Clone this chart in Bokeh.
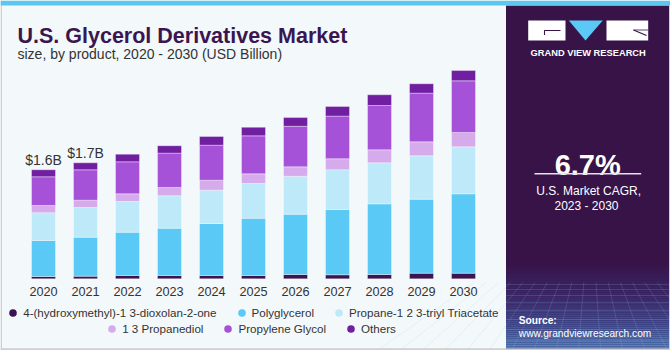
from bokeh.plotting import figure
from bokeh.models import Range1d, Legend, LegendItem, ColumnDataSource
from bokeh.core.properties import value
from bokeh.embed import file_html
from bokeh.resources import INLINE

# ---------------- data ----------------
years = [2020, 2021, 2022, 2023, 2024, 2025, 2026, 2027, 2028, 2029, 2030]
hydroxymethyl = [0.034, 0.038, 0.048, 0.048, 0.048, 0.048, 0.063, 0.059, 0.063, 0.082, 0.082]
polyglycerol = [0.529, 0.573, 0.636, 0.695, 0.764, 0.841, 0.885, 0.959, 1.038, 1.087, 1.166]
triacetate = [0.407, 0.436, 0.451, 0.476, 0.489, 0.510, 0.558, 0.583, 0.602, 0.637, 0.690]
propanediol = [0.107, 0.107, 0.113, 0.122, 0.147, 0.142, 0.138, 0.162, 0.191, 0.206, 0.210]
propylene_glycol = [0.421, 0.446, 0.470, 0.504, 0.514, 0.558, 0.596, 0.626, 0.651, 0.714, 0.759]
others = [0.103, 0.103, 0.112, 0.109, 0.128, 0.126, 0.128, 0.142, 0.157, 0.138, 0.151]

series_keys = ["hydroxymethyl", "polyglycerol", "triacetate", "propanediol", "propylene_glycol", "others"]
series_labels = ["4-(hydroxymethyl)-1 3-dioxolan-2-one", "Polyglycerol", "Propane-1 2 3-triyl Triacetate",
                 "1 3 Propanediol", "Propylene Glycol", "Others"]
series_colors = ["#3B1450", "#5BC9F5", "#BDE9F9", "#D6ABEC", "#A552D8", "#701FA0"]

label_years = [2020, 2021]
label_texts = ["$1.6B", "$1.7B"]

title_text = "U.S. Glycerol Derivatives Market"
subtitle_text = "size, by product, 2020 - 2030 (USD Billion)"
cagr_text = "6.7%"
cagr_label1 = "U.S. Market CAGR,"
cagr_label2 = "2023 - 2030"

FONT = "Liberation Sans"

data = dict(year=years, hydroxymethyl=hydroxymethyl, polyglycerol=polyglycerol, triacetate=triacetate,
            propanediol=propanediol, propylene_glycol=propylene_glycol, others=others)
source = ColumnDataSource(data)

totals = [sum(v) for v in zip(hydroxymethyl, polyglycerol, triacetate, propanediol, propylene_glycol, others)]
label_totals = [totals[years.index(y)] for y in label_years]

# ---------------- figure ----------------
W, H = 670, 350
px_per_year = 42.0
px_per_b = 68.1
x_first_px = 43.0
base_px = 278.3
x0 = years[0] - x_first_px / px_per_year
y0 = -(H - base_px) / px_per_b

p = figure(width=W, height=H, output_backend="svg", toolbar_location=None,
           x_range=Range1d(x0, x0 + W / px_per_year), y_range=Range1d(y0, y0 + H / px_per_b),
           x_axis_location=None, y_axis_location=None, min_border=0)
p.outline_line_color = None
p.background_fill_color = "#F3F8FB"
p.border_fill_color = "#F3F8FB"
p.xgrid.visible = False
p.ygrid.visible = False
p.extra_x_ranges = {"px": Range1d(0, W)}
p.extra_y_ranges = {"py": Range1d(H, 0)}
D = dict(x_range_name="px", y_range_name="py")

# frame borders
p.quad(left=[0, 0], right=[1.5, 670], top=[0, 347.8], bottom=[350, 350],
       color="#CDCFD2", line_color=None, **D)

# right panel
p.quad(left=[505.5], right=[668.5], top=[5], bottom=[347.8], color="#371347", line_color=None, **D)

def hex2rgb(h):
    return tuple(int(h[i:i + 2], 16) for i in (1, 3, 5))

def mix(c1, c2, t):
    a, b = hex2rgb(c1), hex2rgb(c2)
    return "#%02x%02x%02x" % tuple(round(a[i] + (b[i] - a[i]) * t) for i in range(3))

stops = [(262, "#371347"), (300, "#3A2F74"), (325, "#3F559C"), (348, "#5089C8")]
gl, gr, gt, gb, gc = [], [], [], [], []
yy = 262.0
while yy < 347.8:
    y2 = min(yy + 2.0, 347.8)
    ym = (yy + y2) / 2
    for (a, ca), (b, cb) in zip(stops[:-1], stops[1:]):
        if a <= ym <= b:
            gc.append(mix(ca, cb, (ym - a) / (b - a)))
            break
    gl.append(505.5); gr.append(668.5); gt.append(yy); gb.append(y2)
    yy = y2
p.quad(left=gl, right=gr, top=gt, bottom=gb, color=gc, line_color=None, **D)

# faint perspective grid at panel bottom
hx0, hx1, hy0, hy1 = [], [], [], []
for hy in [284, 289, 295, 302, 310, 319, 329, 340]:
    hx0.append(505.5); hx1.append(668.5); hy0.append(hy); hy1.append(hy)
p.segment(x0=hx0, y0=hy0, x1=hx1, y1=hy1, line_color="#9CC4EE", line_alpha=0.22, line_width=0.8, **D)
vx0, vx1, vy0, vy1 = [], [], [], []
vp_x, vp_y = 590.0, 200.0
for bx in range(380, 820, 22):
    t = (282 - vp_y) / (347.8 - vp_y)
    vx0.append(vp_x + (bx - vp_x) * t); vy0.append(282)
    vx1.append(bx); vy1.append(347.8)
p.segment(x0=vx0, y0=vy0, x1=vx1, y1=vy1, line_color="#9CC4EE", line_alpha=0.22, line_width=0.8, **D)
p.quad(left=[668.5], right=[670], top=[0], bottom=[350], color="#CDCFD2", line_color=None, **D)
p.quad(left=[0], right=[670], top=[0], bottom=[5], color="#5CC7EE", line_color=None, **D)

# logo
p.quad(left=[527.7, 606.0], right=[565.0, 647.7], top=[20, 20], bottom=[40, 40], color="white", line_color=None, **D)
p.patch(x=[568.3, 602.3, 585.0], y=[20, 20, 40], color="#5BC8F5", line_color=None, **D)
p.line(x=[544, 544, 560], y=[34.5, 30, 30], line_color="#371347", line_width=1.1, **D)
p.line(x=[633, 646], y=[29.5, 35], line_color="#371347", line_width=1.1, **D)
p.line(x=[633, 647.7], y=[29.5, 29.5], line_color="#371347", line_width=0.8, **D)
p.text(x=[587.7], y=[52.7], text=["GRAND VIEW RESEARCH"], text_font=value(FONT), text_font_style="bold",
       text_font_size="9.3px", text_color="white", text_align="center", text_baseline="alphabetic", **D)

# CAGR block
p.text(x=[587.2], y=[164.5], text=[cagr_text], text_font=value(FONT), text_font_style="bold",
       text_font_size="29px", text_color="white", text_align="center", text_baseline="alphabetic", **D)
p.segment(x0=[534], y0=[173.3], x1=[640.7], y1=[173.3], line_color="#E8E0F0", line_width=1.5, **D)
p.text(x=[588.2, 586], y=[190, 205], text=[cagr_label1, cagr_label2], text_font=value(FONT),
       text_font_size="12px", text_color="white", text_align="center", text_baseline="alphabetic", **D)

# source
p.text(x=[518.3], y=[320], text=["Source:"], text_font=value(FONT), text_font_style="bold",
       text_font_size="10.2px", text_color="white", text_baseline="alphabetic", **D)
p.text(x=[518.3], y=[333], text=["www.grandviewresearch.com"], text_font=value(FONT),
       text_font_size="10.2px", text_color="white", text_baseline="alphabetic", **D)

# titles
p.text(x=[17], y=[35], text=[title_text], text_font=value(FONT), text_font_style="bold",
       text_font_size="21.5px", text_color="#3A1650", text_baseline="alphabetic", **D)
p.text(x=[17], y=[53.3], text=[subtitle_text], text_font=value(FONT),
       text_font_size="14px", text_color="#333333", text_baseline="alphabetic", **D)

# bars
p.vbar_stack(series_keys, x="year", width=24 / px_per_year, color=series_colors, source=source,
             line_color="#FFFFFF", line_alpha=0.45, line_width=0.8)

# year labels
p.text(x=years, y=[0] * len(years), text=[str(y) for y in years], y_offset=12.7,
       text_font=value(FONT), text_font_size="12.7px", text_color="#333333",
       text_align="center", text_baseline="alphabetic")

# value labels
p.text(x=label_years, y=label_totals, text=label_texts, y_offset=-9.5,
       text_font=value(FONT), text_font_size="14px", text_color="#333333",
       text_align="center", text_baseline="alphabetic")

# legend (marker renderers with a single point outside the visible range)
legend_renderers = [p.scatter(x=[x0 - 10], y=[0], marker="circle", color=c, line_color=None)
                    for c in series_colors]
items = [LegendItem(label=l, renderers=[r], index=0) for l, r in zip(series_labels, legend_renderers)]
common = dict(orientation="horizontal", glyph_width=19, glyph_height=19, label_standoff=1, spacing=15,
              padding=0, margin=0, border_line_color=None, background_fill_alpha=0,
              label_text_font_size="11.6px", label_text_font=FONT, label_text_color="#333333",
              label_height=19)
leg1 = Legend(items=items[:3], location=(3.2, 27.8), **common)
leg2 = Legend(items=items[3:], location=(102.2, 11.8), **common)
p.add_layout(leg1)
p.add_layout(leg2)

open("out.html", "w").write(file_html(p, INLINE))
